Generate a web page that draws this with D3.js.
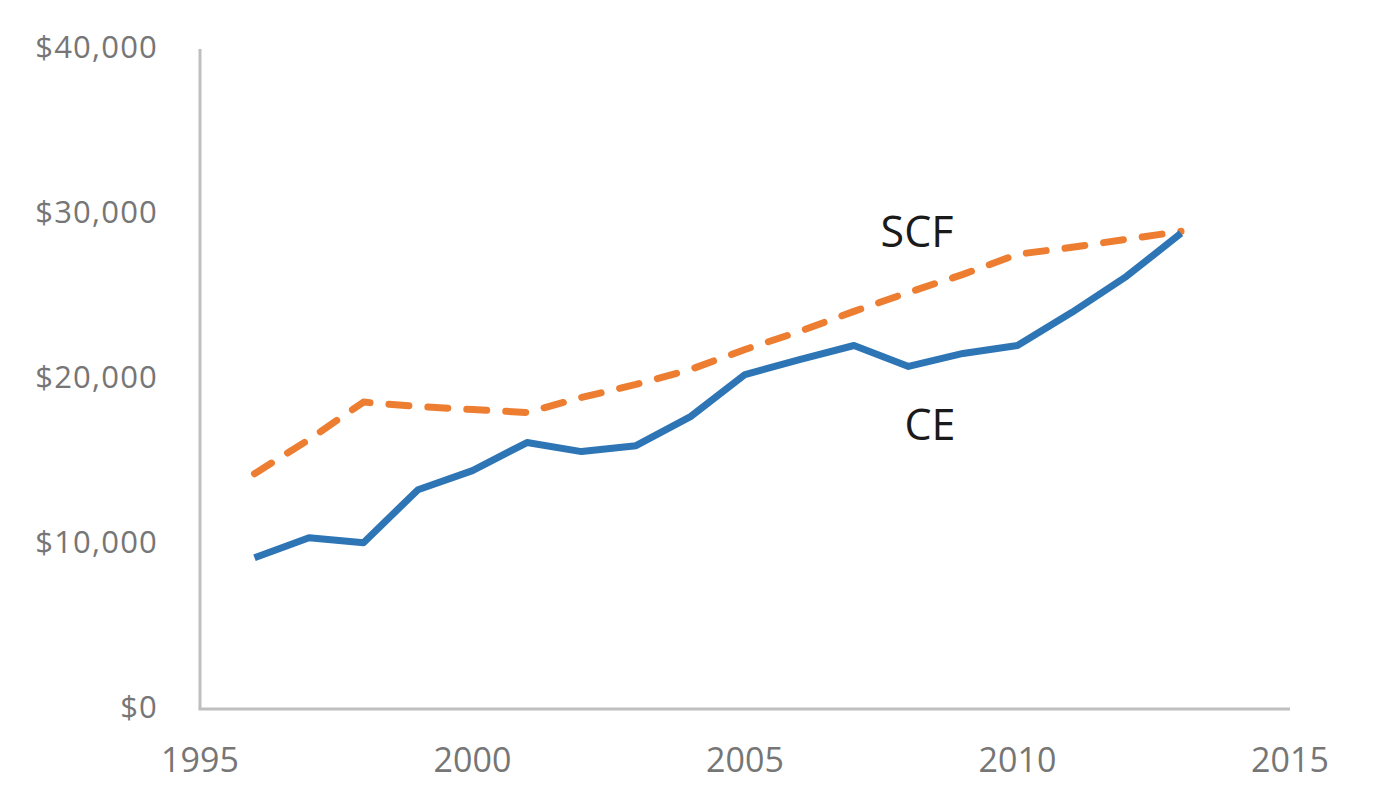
<!DOCTYPE html>
<html>
<head>
<meta charset="utf-8">
<script src="https://cdn.jsdelivr.net/npm/d3@7"></script>
<style>
  html, body { margin: 0; padding: 0; background: #fff; }
  svg { display: block; }
</style>
</head>
<body>
<svg id="chart" width="1380" height="808"></svg>
<script>
const years = [1996,1997,1998,1999,2000,2001,2002,2003,2004,2005,2006,2007,2008,2009,2010,2011,2012,2013];
const ceValues = [9170,10380,10080,13290,14450,16150,15600,15960,17720,20270,21180,22030,20760,21550,22030,24040,26220,28830];
const scfValues = [14260,16330,18600,18330,18150,17970,18880,19670,20580,21790,22880,24100,25250,26340,27560,27980,28470,28950];
const xTicks = [1995,2000,2005,2010,2015];
const yTicks = [0,10000,20000,30000,40000];
const seriesLabels = ["CE","SCF"];

const svg = d3.select("#chart");
const x = d3.scaleLinear().domain([1995, 2015]).range([200, 1290]);
const y = d3.scaleLinear().domain([0, 40000]).range([709, 49]);
const font = "Open Sans, Noto Sans, sans-serif";
const grey = "#767676";

// axes lines
svg.append("line").attr("x1", x(1995)).attr("x2", x(1995)).attr("y1", y(40000)).attr("y2", y(0))
  .attr("stroke", "#bfbfbf").attr("stroke-width", 3);
svg.append("line").attr("x1", x(1995) - 1.5).attr("x2", x(2015)).attr("y1", y(0)).attr("y2", y(0))
  .attr("stroke", "#bfbfbf").attr("stroke-width", 3);

// y tick labels
const fmt = v => "$" + d3.format(",")(v);
svg.append("g").selectAll("text").data(yTicks).join("text")
  .attr("x", 158).attr("y", d => y(d) - 2).attr("dy", "0.36em")
  .attr("text-anchor", "end").attr("font-family", font).attr("font-size", 31)
  .attr("letter-spacing", 1.2)
  .attr("fill", grey).text(fmt);

// x tick labels
svg.append("g").selectAll("text").data(xTicks).join("text")
  .attr("x", d => x(d)).attr("y", 760).attr("dy", "0.36em")
  .attr("text-anchor", "middle").attr("font-family", font).attr("font-size", 34)
  .attr("fill", grey).text(d => d);

const line = d3.line().x(d => x(d[0])).y(d => y(d[1]));

svg.append("path").datum(years.map((yr, i) => [yr, scfValues[i]]))
  .attr("d", line).attr("fill", "none").attr("stroke", "#ED7D31")
  .attr("stroke-width", 7).attr("stroke-dasharray", "20 19").attr("stroke-linecap", "round")
  .attr("stroke-linejoin", "round");

svg.append("path").datum(years.map((yr, i) => [yr, ceValues[i]]))
  .attr("d", line).attr("fill", "none").attr("stroke", "#2E75B6")
  .attr("stroke-width", 7).attr("stroke-linejoin", "round");

// series labels
svg.append("text").attr("x", 917).attr("y", 232).attr("dy", "0.36em").attr("text-anchor", "middle")
  .attr("font-family", font).attr("font-size", 43).attr("fill", "#1a1a1a").text(seriesLabels[1]);
svg.append("text").attr("x", 930).attr("y", 425).attr("dy", "0.36em").attr("text-anchor", "middle")
  .attr("font-family", font).attr("font-size", 43).attr("fill", "#1a1a1a").text(seriesLabels[0]);
</script>
</body>
</html>
